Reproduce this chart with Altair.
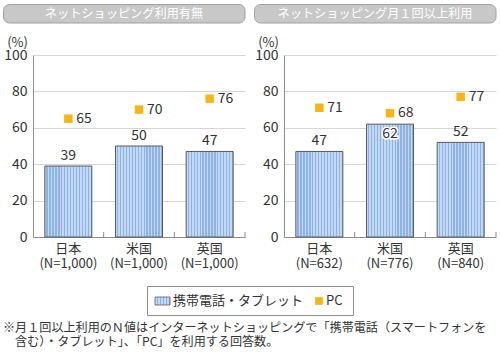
import altair as alt
import pandas as pd

countries = ["日本", "米国", "英国"]
n_left = ["(N=1,000)", "(N=1,000)", "(N=1,000)"]
n_right = ["(N=632)", "(N=776)", "(N=840)"]
mobile_left = [39, 50, 47]
pc_left = [65, 70, 76]
mobile_right = [47, 62, 52]
pc_right = [71, 68, 77]
panel_titles = ["ネットショッピング利用有無", "ネットショッピング月１回以上利用"]
legend_labels = ["携帯電話・タブレット", "PC"]
footnote_lines = [
    "※月１回以上利用のＮ値はインターネットショッピングで「携帯電話（スマートフォンを",
    "含む）・タブレット」、「PC」を利用する回答数。",
]

FONT = "Noto Sans CJK JP"
TXT = "#333333"
AXC = "#8c8c8c"
PCC = "#f6b617"
W, H = 212, 182
PI = 0.335
PO = PI / 2
STEP = W / 3


def stripes(n, light="#c3d8f4", dark="#8fb2e5", frac=0.45):
    stops = []
    for i in range(n):
        a = i / n
        m = (i + 1 - frac) / n
        b = (i + 1) / n
        stops += [
            {"offset": a, "color": light},
            {"offset": m, "color": light},
            {"offset": m, "color": dark},
            {"offset": b, "color": dark},
        ]
    return {"gradient": "linear", "x1": 0, "x2": 1, "y1": 0, "y2": 0, "stops": stops}


def panel(title, ns, mob, pc, with_legend):
    df = pd.DataFrame({
        "label": [f"{c}\n{n}" for c, n in zip(countries, ns)],
        "mobile": mob,
        "pc": pc,
    })
    base = alt.Chart(df)
    xaxis = alt.Axis(title=None, labelExpr="split(datum.label, '\\n')", labelAngle=0,
                     ticks=False, domainColor=AXC, labelFontSize=13, labelColor=TXT,
                     labelPadding=5, labelLineHeight=15.5, labelBaseline="top", grid=False)
    yaxis = alt.Axis(values=[0, 20, 40, 60, 80, 100], title="(%)", titleAngle=0,
                     titleX=-16, titleY=-13, titleAlign="center", titleBaseline="middle",
                     titleFontSize=13, titleFontWeight="normal", titleColor=TXT,
                     labelFontSize=14, labelColor=TXT, labelPadding=6, ticks=False,
                     domainColor=AXC, gridColor="#d6d6d6")

    def X(**kw):
        return alt.X("label:N", sort=None,
                     scale=alt.Scale(paddingInner=PI, paddingOuter=PO),
                     axis=xaxis, **kw)

    def Y(f):
        return alt.Y(f, scale=alt.Scale(domain=[0, 100]), axis=yaxis)

    tdata = alt.Data(values=[{"t": title}])
    tbox = alt.Chart(tdata).mark_rect(fill="#c8c8c8", stroke="#a0a0a0", strokeWidth=1,
                                      cornerRadius=6).encode(
        x=alt.value(-29.5), x2=alt.value(212), y=alt.value(-50.5), y2=alt.value(-32))
    ttext = alt.Chart(tdata).mark_text(color="white", fontSize=12.2, baseline="middle",
                                       align="center").encode(
        x=alt.value(91), y=alt.value(-41), text="t:N")

    bars = base.mark_bar(fill=stripes(16), stroke="#5a5a5a", strokeWidth=1).encode(
        x=X(), y=Y("mobile:Q"))
    sep = base.mark_rule(color=AXC, strokeWidth=1, xOffset=PO * STEP).encode(
        x=X(bandPosition=1), y=alt.value(177), y2=alt.value(182))
    sq = base.mark_square(size=72, color=PCC, opacity=1).encode(x=X(), y=Y("pc:Q"))
    pct = base.mark_text(align="left", baseline="middle", dx=8, fontSize=14,
                         color=TXT).encode(x=X(), y=Y("pc:Q"), text="pc:Q")
    out = base.transform_filter("datum.pc - datum.mobile >= 10").mark_text(
        baseline="alphabetic", dy=-6, fontSize=14, color=TXT).encode(
        x=X(), y=Y("mobile:Q"), text="mobile:Q")
    ins = base.transform_filter("datum.pc - datum.mobile < 10")
    halo = ins.mark_text(baseline="alphabetic", dy=14, fontSize=14, color="white",
                         stroke="white", strokeWidth=3).encode(
        x=X(), y=Y("mobile:Q"), text="mobile:Q")
    inl = ins.mark_text(baseline="alphabetic", dy=14, fontSize=14, color=TXT).encode(
        x=X(), y=Y("mobile:Q"), text="mobile:Q")

    layers = [tbox, ttext, bars, sep, sq, pct, out, halo, inl]

    if with_legend:
        ld = alt.Data(values=[{"a": legend_labels[0], "b": legend_labels[1]}])
        lbox = alt.Chart(ld).mark_rect(fill="white", stroke="#8c8c8c", strokeWidth=1).encode(
            x=alt.value(114.5), x2=alt.value(320.5), y=alt.value(231.5), y2=alt.value(260.5))
        sw = alt.Chart(ld).mark_rect(fill=stripes(5), stroke="#5a5a5a", strokeWidth=0.8).encode(
            x=alt.value(122), x2=alt.value(137), y=alt.value(242), y2=alt.value(250))
        la = alt.Chart(ld).mark_text(align="left", baseline="middle", fontSize=13,
                                     color=TXT).encode(
            x=alt.value(140), y=alt.value(246), text="a:N")
        lsq = alt.Chart(ld).mark_square(size=60, color=PCC, opacity=1).encode(
            x=alt.value(286), y=alt.value(246))
        lb = alt.Chart(ld).mark_text(align="left", baseline="middle", fontSize=13,
                                     color=TXT).encode(
            x=alt.value(293), y=alt.value(246), text="b:N")
        fd = alt.Data(values=[{"l1": footnote_lines[0], "l2": footnote_lines[1]}])
        f1 = alt.Chart(fd).mark_text(align="left", baseline="middle", fontSize=12.1,
                                     color=TXT).encode(
            x=alt.value(-30), y=alt.value(273), text="l1:N")
        f2 = alt.Chart(fd).mark_text(align="left", baseline="middle", fontSize=12.1,
                                     color=TXT).encode(
            x=alt.value(-18), y=alt.value(287), text="l2:N")
        layers += [lbox, sw, la, lsq, lb, f1, f2]

    return alt.layer(*layers).properties(width=W, height=H)


left = panel(panel_titles[0], n_left, mobile_left, pc_left, True)
right = panel(panel_titles[1], n_right, mobile_right, pc_right, False)

chart = alt.hconcat(left, right, spacing=39, bounds="flush").properties(
    padding={"left": 3, "top": 4, "right": 0, "bottom": 0},
    background="white",
).configure(font=FONT).configure_view(strokeWidth=0)

chart.save("out.html", embed_options={"renderer": "svg", "actions": False})
